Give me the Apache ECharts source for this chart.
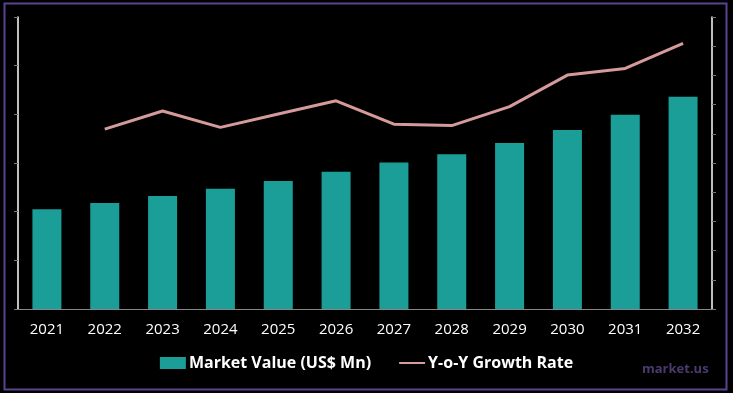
<!DOCTYPE html>
<html><head><meta charset="utf-8">
<script src="https://cdn.jsdelivr.net/npm/echarts@6/dist/echarts.min.js"></script>
<style>html,body{margin:0;padding:0;background:#000;}#c{width:733px;height:393px;}</style>
</head><body><div id="c"></div>
<script>
const categories = ['2021','2022','2023','2024','2025','2026','2027','2028','2029','2030','2031','2032'];
const marketValue = [205, 218, 232, 247, 263, 282, 301, 318, 341, 368, 399, 436];
const growthRate = [null, 6.16, 6.78, 6.22, 6.68, 7.13, 6.33, 6.28, 6.93, 8.01, 8.24, 9.10];
const font = 'Open Sans';
const chart = echarts.init(document.getElementById('c'));
chart.setOption({
  backgroundColor: '#000',
  animation: false,
  grid: {left: 18, right: 21, top: 17, bottom: 84},
  legend: {
    bottom: 17, left: 'center', itemGap: 28, itemWidth: 26, itemHeight: 12,
    textStyle: {color: '#fff', fontSize: 16, fontWeight: 'bold', fontFamily: font, padding: [0,0,0,-2]},
    data: [{name: 'Market Value (US$ Mn)', icon: 'rect'}, {name: 'Y-o-Y Growth Rate', icon: 'path://M0,5 L26,5 L26,7 L0,7 Z'}]
  },
  xAxis: {
    type: 'category', data: categories,
    axisLine: {lineStyle: {color: '#888', width: 1}},
    axisTick: {show: false},
    axisLabel: {color: '#fff', fontSize: 15, fontFamily: font, margin: 13}
  },
  yAxis: [{
    type: 'value', min: 0, max: 600, interval: 100, position: 'left',
    axisLine: {show: true, lineStyle: {color: '#fff', width: 1.5}},
    axisTick: {show: true, length: 4, lineStyle: {color: '#777'}},
    axisLabel: {show: false}, splitLine: {show: false}
  }, {
    type: 'value', min: 0, max: 10, interval: 1, position: 'right',
    axisLine: {show: true, lineStyle: {color: '#fff', width: 1.5}},
    axisTick: {show: true, length: 4, lineStyle: {color: '#777'}},
    axisLabel: {show: false}, splitLine: {show: false}
  }],
  series: [{
    name: 'Market Value (US$ Mn)', type: 'bar', data: marketValue, barWidth: 29,
    itemStyle: {color: '#1b9e98'}
  }, {
    name: 'Y-o-Y Growth Rate', type: 'line', yAxisIndex: 1, data: growthRate,
    symbol: 'none', lineStyle: {color: '#d59a9a', width: 3}, itemStyle: {color: '#d59a9a'}
  }],
  graphic: [{
    type: 'rect', shape: {x: 4.5, y: 3.5, width: 722, height: 386},
    style: {fill: 'none', stroke: '#5c4290', lineWidth: 2}, silent: true
  }, {
    type: 'text', left: 642, top: 363,
    style: {text: 'market.us', fill: '#4a3a6e', font: 'bold 13px ' + font}
  }]
});
</script></body></html>
